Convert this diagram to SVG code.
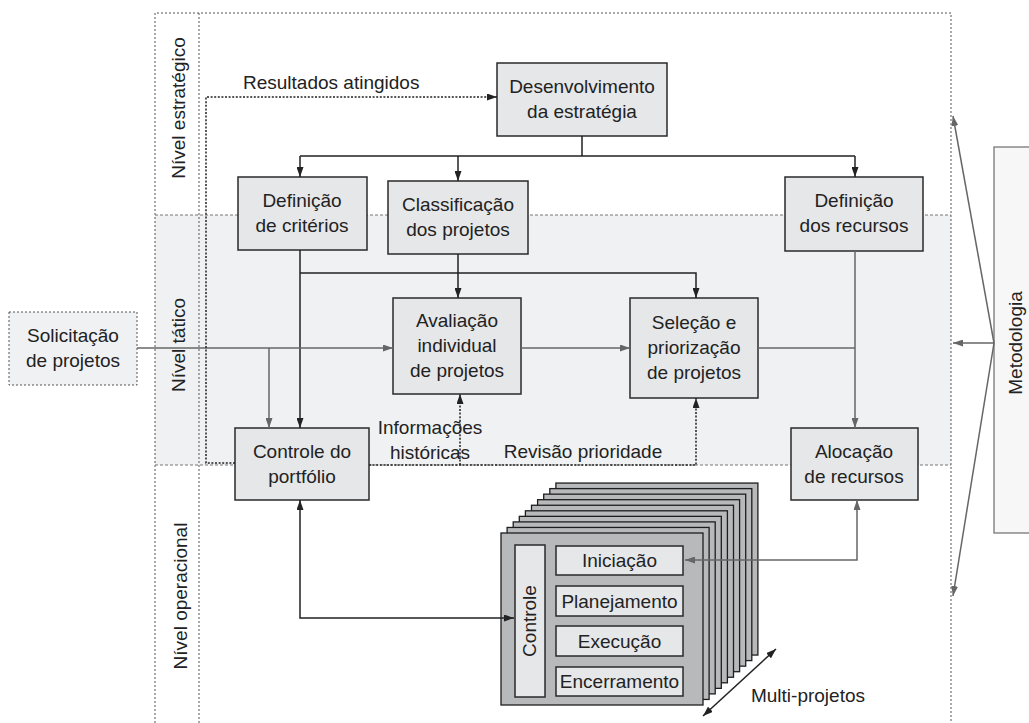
<svg xmlns="http://www.w3.org/2000/svg" xmlns:xlink="http://www.w3.org/1999/xlink" width="1029" height="723" viewBox="0 0 1029 723">
<style>
text{font-family:"Liberation Sans",Arial,sans-serif;font-size:19px;fill:#222;}
.c{text-anchor:middle;}
.node{fill:#e6e7e9;stroke:#2a2a2a;stroke-width:1.5;}
.frame{fill:none;stroke:#555;stroke-width:1;stroke-dasharray:2 2;}
.band{fill:none;stroke:#777;stroke-width:1;stroke-dasharray:3 2;}
.dk{fill:none;stroke:#222;stroke-width:1.5;}
.gr{fill:none;stroke:#666;stroke-width:1.5;}
.dt{fill:none;stroke:#222;stroke-width:1.5;stroke-dasharray:2 1.6;}
.page{fill:#b8b9bb;stroke:#1e1e1e;stroke-width:1.3;}
</style>
<defs>
<marker id="ab" viewBox="0 0 10 7" refX="10" refY="3.5" markerWidth="10" markerHeight="7" markerUnits="userSpaceOnUse" orient="auto-start-reverse"><path d="M0,0 L10,3.5 L0,7 z" fill="#222"/></marker>
<marker id="ag" viewBox="0 0 10 7" refX="10" refY="3.5" markerWidth="10" markerHeight="7" markerUnits="userSpaceOnUse" orient="auto-start-reverse"><path d="M0,0 L10,3.5 L0,7 z" fill="#666"/></marker>
<rect id="pg" width="202" height="172" class="page"/>
</defs>
<rect width="1029" height="723" fill="#fff"/>

<g id="levels">
<rect x="155" y="215" width="796" height="250" fill="#f0f1f3"/>
<path class="frame" d="M155,723 V13 H951 V723 M199,13 V723"/>
<path class="band" d="M155,215 H951 M155,465 H951"/>
<text transform="translate(185,108) rotate(-90)" class="c">Nível estratégico</text>
<text transform="translate(185,345) rotate(-90)" class="c">Nível tático</text>
<text transform="translate(187,596) rotate(-90)" class="c">Nível operacional</text>
</g>

<g id="metodologia">
<rect x="994" y="147" width="50" height="386" fill="#f7f7f8" stroke="#777" stroke-width="1.3"/>
<text transform="translate(1022,343) rotate(-90)" class="c">Metodologia</text>
</g>

<g id="solicitacao">
<rect x="9" y="312" width="128" height="73" fill="#f0f1f3" stroke="#555" stroke-width="1" stroke-dasharray="2 2"/>
<text x="73" y="342" class="c">Solicitação</text>
<text x="73" y="367" class="c">de projetos</text>
</g>

<g id="desenvolvimento">
<rect x="497" y="63" width="170" height="73" class="node"/>
<text x="582" y="93" class="c">Desenvolvimento</text>
<text x="582" y="118" class="c">da estratégia</text>
</g>
<g id="def-criterios">
<rect x="238" y="177" width="129" height="73" class="node"/>
<text x="302" y="207" class="c">Definição</text>
<text x="302" y="232" class="c">de critérios</text>
</g>
<g id="classificacao">
<rect x="388" y="181" width="140" height="73" class="node"/>
<text x="458" y="211" class="c">Classificação</text>
<text x="458" y="236" class="c">dos projetos</text>
</g>
<g id="def-recursos">
<rect x="785" y="177" width="138" height="74" class="node"/>
<text x="854" y="207" class="c">Definição</text>
<text x="854" y="232" class="c">dos recursos</text>
</g>
<g id="avaliacao">
<rect x="393" y="298" width="128" height="96" class="node"/>
<text x="457" y="327" class="c">Avaliação</text>
<text x="457" y="352" class="c">individual</text>
<text x="457" y="377" class="c">de projetos</text>
</g>
<g id="selecao">
<rect x="630" y="298" width="128" height="100" class="node"/>
<text x="694" y="329" class="c">Seleção e</text>
<text x="694" y="354" class="c">priorização</text>
<text x="694" y="379" class="c">de projetos</text>
</g>
<g id="controle-portfolio">
<rect x="235" y="428" width="134" height="72" class="node"/>
<text x="302" y="458" class="c">Controle do</text>
<text x="302" y="483" class="c">portfólio</text>
</g>
<g id="alocacao">
<rect x="791" y="428" width="127" height="72" class="node"/>
<text x="854" y="458" class="c">Alocação</text>
<text x="854" y="483" class="c">de recursos</text>
</g>

<g id="projetos">
<use xlink:href="#pg" x="555.9" y="483.05"/>
<use xlink:href="#pg" x="549.8" y="488.6"/>
<use xlink:href="#pg" x="543.7" y="494.15"/>
<use xlink:href="#pg" x="537.6" y="499.7"/>
<use xlink:href="#pg" x="531.5" y="505.25"/>
<use xlink:href="#pg" x="525.4" y="510.8"/>
<use xlink:href="#pg" x="519.3" y="516.35"/>
<use xlink:href="#pg" x="513.2" y="521.9"/>
<use xlink:href="#pg" x="507.1" y="527.45"/>
<use xlink:href="#pg" x="501" y="533"/>
<g id="controle">
<rect x="515" y="545" width="30" height="152" class="node"/>
<text transform="translate(536,621) rotate(-90)" class="c">Controle</text>
</g>
<g id="iniciacao">
<rect x="556" y="546" width="127" height="29" class="node"/>
<text x="619.5" y="567" class="c">Iniciação</text>
</g>
<g id="planejamento">
<rect x="556" y="586" width="127" height="30" class="node"/>
<text x="619.5" y="608" class="c">Planejamento</text>
</g>
<g id="execucao">
<rect x="556" y="626" width="127" height="30" class="node"/>
<text x="619.5" y="648" class="c">Execução</text>
</g>
<g id="encerramento">
<rect x="556" y="667" width="127" height="29" class="node"/>
<text x="619.5" y="688" class="c">Encerramento</text>
</g>
</g>

<g id="connectors">
<path class="dk" d="M582,136 V156 M300,156 H855"/>
<path class="dk" d="M300,156 V177" marker-end="url(#ab)"/>
<path class="dk" d="M458,156 V181" marker-end="url(#ab)"/>
<path class="dk" d="M855,156 V177" marker-end="url(#ab)"/>
<path class="dk" d="M300,250 V428" marker-end="url(#ab)"/>
<path class="dk" d="M300,273 H696 V298" marker-end="url(#ab)"/>
<path class="dk" d="M458,254 V298" marker-end="url(#ab)"/>
<path class="dk" d="M300,500 V618 H514" marker-start="url(#ab)" marker-end="url(#ab)"/>
<path class="gr" d="M137,348 H393" marker-end="url(#ag)"/>
<path class="gr" d="M269,348 V428" marker-end="url(#ag)"/>
<path class="gr" d="M521,348 H630" marker-end="url(#ag)"/>
<path class="gr" d="M758,348 H855"/>
<path class="gr" d="M855,251 V428" marker-end="url(#ag)"/>
<path class="gr" d="M857,500 V560 H685" marker-start="url(#ag)" marker-end="url(#ag)"/>
<path class="gr" d="M994,343 L953,116" marker-end="url(#ag)"/>
<path class="gr" d="M994,343 L953,596" marker-end="url(#ag)"/>
<path class="gr" d="M994,343 H953" marker-end="url(#ag)"/>
<path class="dt" d="M235,463 H206 V97 H497" marker-end="url(#ab)"/>
<path class="dt" d="M369,465 H696 V398" marker-end="url(#ab)"/>
<path class="dt" d="M460,465 V394" marker-end="url(#ab)"/>
<path class="dk" d="M703,716 L776,649" marker-start="url(#ab)" marker-end="url(#ab)"/>
<text x="243" y="89">Resultados atingidos</text>
<text x="430" y="434" class="c">Informações</text>
<text x="430" y="459" class="c">históricas</text>
<text x="583" y="458" class="c">Revisão prioridade</text>
<text x="808" y="702" class="c">Multi-projetos</text>
</g>
</svg>
